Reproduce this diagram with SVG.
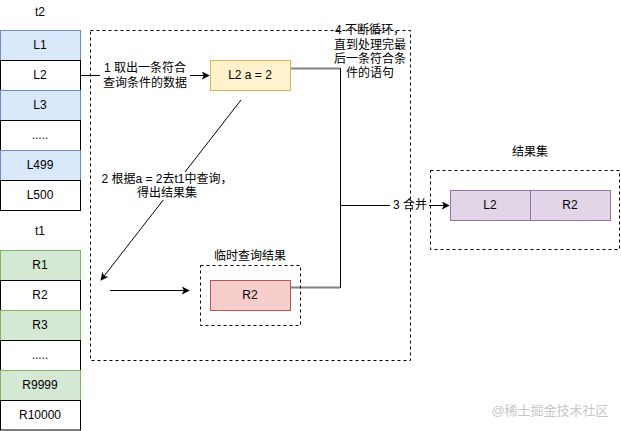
<svg xmlns="http://www.w3.org/2000/svg" width="621" height="431" viewBox="0 0 621 431">
<style>
text{font-family:"Liberation Sans","Noto Sans CJK SC",sans-serif;font-size:12px;fill:#000;text-anchor:middle;dominant-baseline:central}
.blue{fill:#dae8fc;stroke:#6c8ebf}
.green{fill:#d5e8d4;stroke:#82b366}
.white{fill:#fff;stroke:#000}
.dash{fill:none;stroke:#000;stroke-dasharray:3 3}
.ln{fill:none;stroke:#000;stroke-width:1}
.gray{fill:none;stroke:#808080;stroke-width:2}
</style>
<defs>
<marker id="arr" viewBox="0 0 10 10" refX="9" refY="5" markerWidth="8" markerHeight="8" markerUnits="userSpaceOnUse" orient="auto">
<path d="M0,0 L10,5 L0,10 L2.5,5 Z" fill="#000"/>
</marker>
</defs>
<rect width="621" height="431" fill="#fff"/>

<g id="t2">
<text x="40" y="12">t2</text>
<g id="t2-L1"><rect class="blue" x="0.5" y="30.5" width="80" height="30"/><text x="40" y="45">L1</text></g>
<g id="t2-L2"><rect class="white" x="0.5" y="60.5" width="80" height="30"/><text x="40" y="75">L2</text></g>
<g id="t2-L3"><rect class="blue" x="0.5" y="90.5" width="80" height="30"/><text x="40" y="105">L3</text></g>
<g id="t2-dots"><rect class="white" x="0.5" y="120.5" width="80" height="30"/><text x="40" y="135">.....</text></g>
<g id="t2-L499"><rect class="blue" x="0.5" y="150.5" width="80" height="30"/><text x="40" y="165">L499</text></g>
<g id="t2-L500"><rect class="white" x="0.5" y="180.5" width="80" height="30"/><text x="40" y="195">L500</text></g>
</g>

<g id="t1">
<text x="40" y="231">t1</text>
<g id="t1-R1"><rect class="green" x="0.5" y="250.5" width="80" height="30"/><text x="40" y="265">R1</text></g>
<g id="t1-R2"><rect class="white" x="0.5" y="280.5" width="80" height="30"/><text x="40" y="295">R2</text></g>
<g id="t1-R3"><rect class="green" x="0.5" y="310.5" width="80" height="30"/><text x="40" y="325">R3</text></g>
<g id="t1-dots"><rect class="white" x="0.5" y="340.5" width="80" height="30"/><text x="40" y="355">.....</text></g>
<g id="t1-R9999"><rect class="green" x="0.5" y="370.5" width="80" height="30"/><text x="40" y="385">R9999</text></g>
<g id="t1-R10000"><rect class="white" x="0.5" y="400.5" width="80" height="29.5"/><text x="40" y="415">R10000</text></g>
</g>

<g id="connectors">
<line class="ln" x1="80" y1="75.5" x2="209" y2="75.5" marker-end="url(#arr)"/>
<line class="ln" x1="241" y1="100" x2="101" y2="280" marker-end="url(#arr)"/>
<line class="ln" x1="110" y1="290.5" x2="189" y2="290.5" marker-end="url(#arr)"/>
<polyline class="gray" points="290,68.5 340,68.5"/>
<polyline class="gray" points="290,287.5 340,287.5"/>
<line class="ln" x1="340.5" y1="68" x2="340.5" y2="288"/>
<line class="ln" x1="340.5" y1="205.5" x2="449" y2="205.5" marker-end="url(#arr)"/>
<rect x="100" y="62" width="90" height="29" fill="#fff"/>
<text x="145" y="68">1 取出一条符合</text>
<text x="145" y="83">查询条件的数据</text>
<rect x="104" y="172" width="126" height="28" fill="#fff"/>
<text x="167" y="179">2 根据a = 2去t1中查询，</text>
<text x="167" y="193">得出结果集</text>
<rect x="390" y="198" width="39" height="14" fill="#fff"/>
<text x="410" y="205">3 合并</text>
<text x="370" y="30">4 不断循环，</text>
<text x="370" y="45">直到处理完最</text>
<text x="370" y="59">后一条符合条</text>
<text x="370" y="73">件的语句</text>
</g>

<g id="main-container"><rect class="dash" x="90.5" y="30.5" width="320" height="330"/></g>

<g id="temp-result">
<text x="250" y="256">临时查询结果</text>
<rect class="dash" x="200.5" y="265.5" width="100" height="60"/>
<g id="tmp-R2"><rect fill="#f8cecc" stroke="#b85450" x="210.5" y="280.5" width="80" height="30"/><text x="250" y="295">R2</text></g>
</g>

<g id="node-L2a"><rect fill="#fff2cc" stroke="#d6b656" x="210.5" y="60.5" width="80" height="30"/><text x="250" y="75">L2 a = 2</text></g>

<g id="result-set">
<text x="530" y="152">结果集</text>
<rect class="dash" x="430.5" y="170.5" width="189" height="79"/>
<g id="res-L2"><rect fill="#e1d5e7" stroke="#9673a6" x="450.5" y="190.5" width="80" height="30"/><text x="490" y="205">L2</text></g>
<g id="res-R2"><rect fill="#e1d5e7" stroke="#9673a6" x="530.5" y="190.5" width="80" height="30"/><text x="570" y="205">R2</text></g>
</g>

<text x="550" y="410" style="fill:#c8c8c8;font-size:13px">@稀土掘金技术社区</text>
</svg>
